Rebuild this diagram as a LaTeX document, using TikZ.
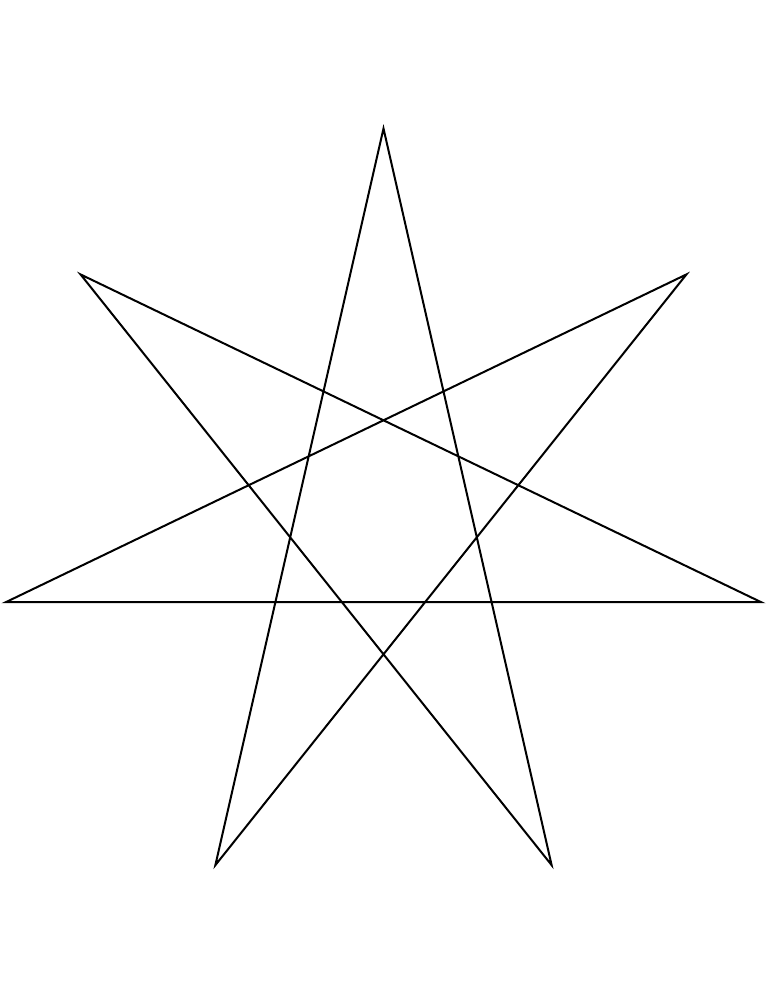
\documentclass[tikz,border=0pt]{standalone}
\begin{document}
\begin{tikzpicture}[x=1pt,y=-1pt,starline/.style={line width=2pt,line join=miter,black}]
\useasboundingbox (0,0) rectangle (768,994);
\fill[white] (0,0) rectangle (768,994);
\def\cx{383.5}\def\cy{516}\def\R{387.5}
\foreach \i in {0,...,6}{
  \coordinate (v\i) at ({\cx+\R*cos(90+\i*360/7)},{\cy-\R*sin(90+\i*360/7)});
}
\draw[starline] (v0) -- (v3) -- (v6) -- (v2) -- (v5) -- (v1) -- (v4) -- cycle;
\end{tikzpicture}
\end{document}
